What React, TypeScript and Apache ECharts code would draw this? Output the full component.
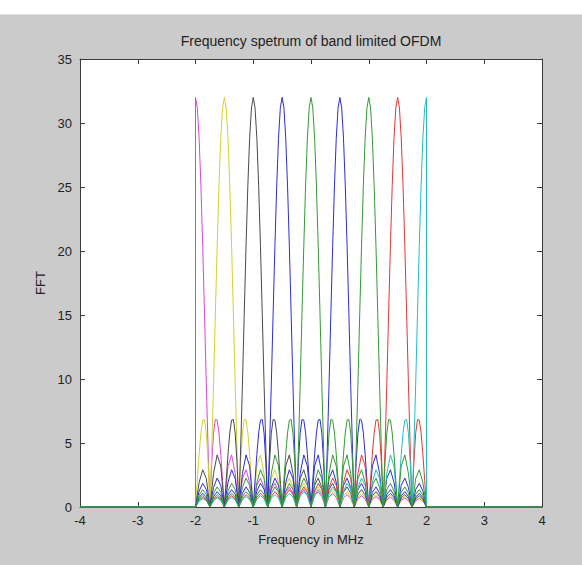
import React, { useEffect, useRef } from "react";
import * as echarts from "echarts";

// Title and axis texts
const chartTitle = "Frequency spetrum of band limited OFDM";
const xAxisName = "Frequency in MHz";
const yAxisName = "FFT";

// Axis ranges and ticks
const xRange = [-4, 4];
const xTickStep = 1;
const yRange = [0, 35];
const yTickStep = 5;

// Band limits (outside of it every curve lies on 0)
const bandLimits = [-2, 2];

// Subcarrier centres (MHz) and their colours, in drawing order
const carrierCenters = [-2, -1.5, -1, -0.5, 0.5, 1.5, 2, 0, 1];
const carrierColors = [
  "#dd44dd",
  "#d2d232",
  "#4a4a4a",
  "#2b2be0",
  "#2b2be0",
  "#e83434",
  "#22c0c0",
  "#339933",
  "#339933",
];

// One-sided magnitude profile of a subcarrier:
// [offset from centre in MHz, FFT magnitude]
const lobeProfile: [number, number][] = [
  [0, 32],
  [0.03125, 31.18],
  [0.0625, 28.81],
  [0.09375, 25.09],
  [0.125, 20.37],
  [0.15625, 15.06],
  [0.1875, 9.6],
  [0.21875, 4.45],
  [0.25, 0],
  [0.28125, 3.46],
  [0.3125, 5.76],
  [0.34375, 6.84],
  [0.375, 6.79],
  [0.40625, 5.79],
  [0.4375, 4.12],
  [0.46875, 2.08],
  [0.5, 0],
  [0.5625, 3.2],
  [0.625, 4.07],
  [0.6875, 2.62],
  [0.75, 0],
  [0.8125, 2.22],
  [0.875, 2.91],
  [0.9375, 1.92],
  [1.0, 0],
  [1.0625, 1.69],
  [1.125, 2.26],
  [1.1875, 1.52],
  [1.25, 0],
  [1.3125, 1.37],
  [1.375, 1.85],
  [1.4375, 1.25],
  [1.5, 0],
  [1.5625, 1.15],
  [1.625, 1.57],
  [1.6875, 1.07],
  [1.75, 0],
  [1.8125, 0.99],
  [1.875, 1.36],
  [1.9375, 0.93],
  [2.0, 0],
  [2.0625, 0.87],
  [2.125, 1.2],
  [2.1875, 0.82],
  [2.25, 0],
  [2.3125, 0.78],
  [2.375, 1.07],
  [2.4375, 0.74],
  [2.5, 0],
  [2.5625, 0.7],
  [2.625, 0.97],
  [2.6875, 0.67],
  [2.75, 0],
  [2.8125, 0.64],
  [2.875, 0.89],
  [2.9375, 0.61],
  [3.0, 0],
  [3.0625, 0.59],
  [3.125, 0.81],
  [3.1875, 0.57],
  [3.25, 0],
  [3.3125, 0.55],
  [3.375, 0.75],
  [3.4375, 0.53],
  [3.5, 0],
  [3.5625, 0.51],
  [3.625, 0.7],
  [3.6875, 0.49],
  [3.75, 0],
  [3.8125, 0.48],
  [3.875, 0.66],
  [3.9375, 0.46],
  [4.0, 0],
];

function buildCarrier(center: number): [number, number][] {
  const pts: [number, number][] = [];
  const [lo, hi] = bandLimits;
  pts.push([xRange[0], 0]);
  pts.push([lo, 0]);
  const inner: [number, number][] = [];
  for (let i = lobeProfile.length - 1; i >= 1; i--) {
    const [u, v] = lobeProfile[i];
    inner.push([center - u, v]);
  }
  for (let i = 0; i < lobeProfile.length; i++) {
    const [u, v] = lobeProfile[i];
    inner.push([center + u, v]);
  }
  for (const p of inner) {
    if (p[0] >= lo - 1e-9 && p[0] <= hi + 1e-9) pts.push(p);
  }
  pts.push([hi, 0]);
  pts.push([xRange[1], 0]);
  return pts;
}

const FONT = "'Liberation Sans', Arial, Helvetica, sans-serif";
const TEXT = "#222222";
const AXIS = "#3a3a3a";

export default function App() {
  const ref = useRef<HTMLDivElement>(null);
  useEffect(() => {
    if (!ref.current) return;
    const chart = echarts.init(ref.current, undefined, { renderer: "svg" });
    const gridLeft = 80;
    const gridRight = 40;
    const gridTop = 59;
    const gridBottom = 58;
    const axisCommon = {
      type: "value" as const,
      splitLine: { show: false },
      axisLine: { show: true, onZero: false, lineStyle: { color: AXIS, width: 1 } },
      axisTick: { show: true, inside: true, length: 5, lineStyle: { color: AXIS } },
    };
    chart.setOption({
      animation: false,
      backgroundColor: "#cbcbcb",
      textStyle: { fontFamily: FONT },
      graphic: [
        { type: "rect", shape: { x: 0, y: 0, width: 582, height: 14 }, style: { fill: "#ffffff" }, z: -1 },
        { type: "rect", shape: { x: 0, y: 14, width: 582, height: 1 }, style: { fill: "#e2e2e2" }, z: -1 },
        {
          type: "text",
          x: gridLeft + (582 - gridLeft - gridRight) / 2,
          y: 41,
          style: {
            text: chartTitle,
            align: "center",
            verticalAlign: "middle",
            fontSize: 14,
            fontFamily: FONT,
            fill: TEXT,
          },
        },
      ],
      grid: {
        left: gridLeft,
        right: gridRight,
        top: gridTop,
        bottom: gridBottom,
        show: true,
        backgroundColor: "#ffffff",
        borderWidth: 0,
      },
      xAxis: [
        {
          ...axisCommon,
          position: "bottom",
          min: xRange[0],
          max: xRange[1],
          interval: xTickStep,
          axisLabel: { fontSize: 13, color: TEXT, margin: 7 },
          name: xAxisName,
          nameLocation: "middle",
          nameGap: 26,
          nameTextStyle: { fontSize: 13, color: TEXT },
        },
        {
          ...axisCommon,
          position: "top",
          min: xRange[0],
          max: xRange[1],
          interval: xTickStep,
          axisLabel: { show: false },
        },
      ],
      yAxis: [
        {
          ...axisCommon,
          position: "left",
          min: yRange[0],
          max: yRange[1],
          interval: yTickStep,
          axisLabel: { fontSize: 13, color: TEXT, margin: 8 },
          name: yAxisName,
          nameLocation: "middle",
          nameGap: 30,
          nameTextStyle: { fontSize: 13, color: TEXT },
        },
        {
          ...axisCommon,
          position: "right",
          min: yRange[0],
          max: yRange[1],
          interval: yTickStep,
          axisLabel: { show: false },
        },
      ],
      series: carrierCenters.map((c, i) => ({
        type: "line",
        name: `carrier ${c}`,
        xAxisIndex: 0,
        yAxisIndex: 0,
        data: buildCarrier(c),
        showSymbol: false,
        silent: true,
        clip: true,
        lineStyle: { color: carrierColors[i], width: 1 },
        itemStyle: { color: carrierColors[i] },
      })),
    });
    return () => chart.dispose();
  }, []);
  return (
    <div
      ref={ref}
      style={{ position: "fixed", left: 0, top: 0, width: 582, height: 565 }}
    />
  );
}
